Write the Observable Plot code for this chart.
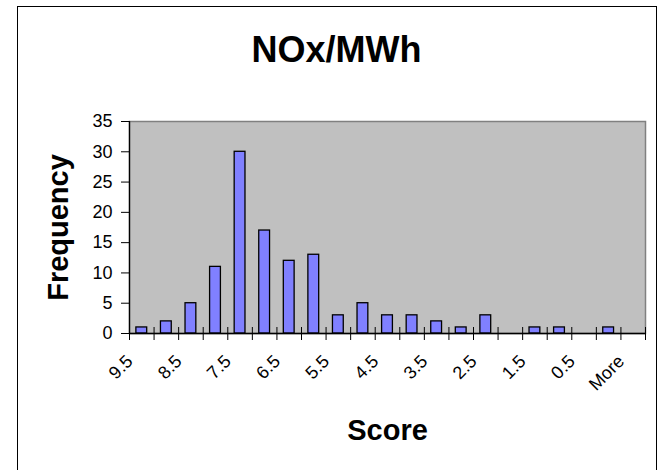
<!DOCTYPE html>
<html>
<head>
<meta charset="utf-8">
<script src="https://cdn.jsdelivr.net/npm/d3@7"></script>
<script src="https://cdn.jsdelivr.net/npm/@observablehq/plot@0.6"></script>
<style>
  html, body { margin: 0; padding: 0; background: #fff; }
  #chart { position: relative; width: 663px; height: 470px; overflow: hidden;
           font-family: "Liberation Sans", Arial, sans-serif; }
  #chart .border { position: absolute; left: 16.5px; top: 5.5px; width: 640px; height: 520px;
                   border: 1.5px solid #000; box-sizing: border-box; }
  #chart h1 { position: absolute; left: 5px; top: 32px; width: 663px; margin: 0;
              text-align: center; font-size: 36px; line-height: 35px; font-weight: bold; color: #000; }
  #chart svg { position: absolute; left: 0; top: 0; }
</style>
</head>
<body>
<div id="chart">
  <div class="border"></div>
  <h1>NOx/MWh</h1>
</div>
<script>
// Histogram bins (score upper bounds) and their counts
const categories = ["9.5", "9", "8.5", "8", "7.5", "7", "6.5", "6", "5.5", "5", "4.5",
                    "4", "3.5", "3", "2.5", "2", "1.5", "1", "0.5", "0", "More"];
const frequencies = [1, 2, 5, 11, 30, 17, 12, 13, 3, 5, 3, 3, 2, 1, 3, 0, 1, 1, 0, 1, 0];
const yTicks = [0, 5, 10, 15, 20, 25, 30, 35];

const bins = categories.map((category, i) => ({i, category, count: frequencies[i]}));
// every other bin gets a label, starting with the first
const labelPositions = bins.filter(d => d.i % 2 === 0).map(d => d.i + 0.5);
const boundaries = d3.range(0, categories.length + 1);

const plot = Plot.plot({
  width: 663,
  height: 470,
  marginLeft: 129,
  marginRight: 18,
  marginTop: 121,
  marginBottom: 137,
  style: {fontFamily: "'Liberation Sans', Arial, sans-serif", background: "transparent", color: "#000"},
  x: {domain: [0, categories.length]},
  y: {domain: [0, 35]},
  marks: [
    Plot.frame({fill: "#C0C0C0", stroke: "#808080", strokeWidth: 1.5}),
    Plot.rectY(bins, {x1: d => d.i + 0.28, x2: d => d.i + 0.72, y: "count",
                      fill: "#8080FF", stroke: "#000", strokeWidth: 1.3}),
    Plot.ruleX([0], {stroke: "#000", strokeWidth: 1.3}),
    Plot.ruleY([0], {stroke: "#000", strokeWidth: 1.3}),
    Plot.axisY({ticks: yTicks, tickSize: 8, tickPadding: 9,
                label: "Frequency", labelArrow: "none", labelAnchor: "center", labelOffset: 82}),
    Plot.axisX({ticks: boundaries, tickSize: 13, dy: -6, tickFormat: () => "", label: null}),
    Plot.axisX({ticks: labelPositions, tickSize: 0, tickPadding: 0, tickRotate: -45,
                textAnchor: "end", lineAnchor: "bottom", dx: -8, dy: 29,
                tickFormat: v => categories[Math.floor(v)],
                label: "Score", labelArrow: "none", labelAnchor: "center", labelOffset: 106})
  ]
});

const svg = d3.select(plot);
svg.selectAll('[aria-label="y-axis tick label"], [aria-label="x-axis tick label"]')
  .style("font-size", "18px");
svg.selectAll('[aria-label="y-axis tick label"] text, [aria-label="x-axis tick label"] text')
  .style("font-size", "18px");
svg.selectAll('[aria-label="y-axis label"] text, [aria-label="x-axis label"] text')
  .style("font-size", "29px").style("font-weight", "bold");
document.getElementById("chart").appendChild(plot);
</script>
</body>
</html>
